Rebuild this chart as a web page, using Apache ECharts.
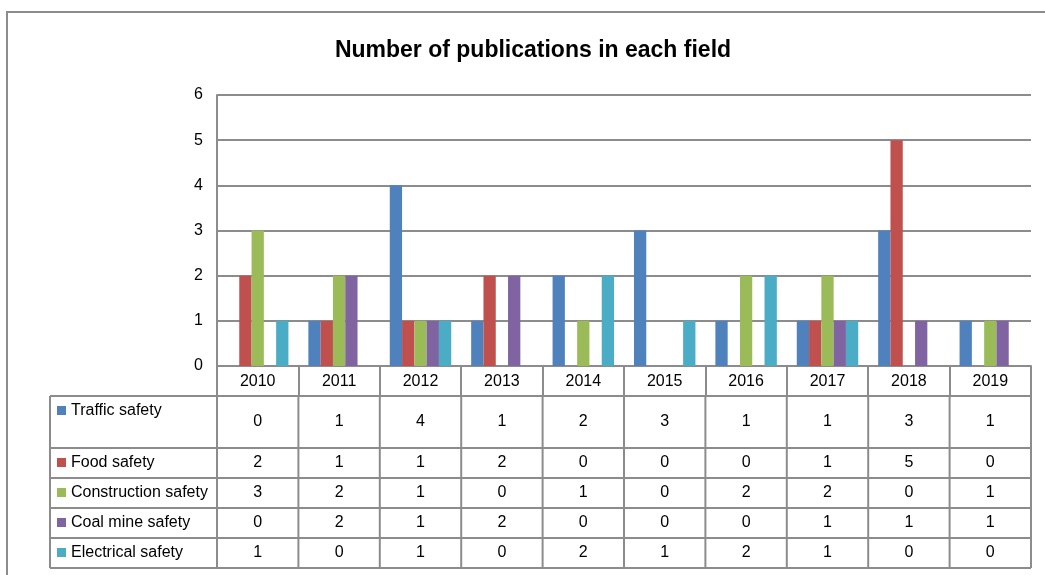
<!DOCTYPE html>
<html>
<head>
<meta charset="utf-8">
<script src="https://cdn.jsdelivr.net/npm/echarts@6/dist/echarts.min.js"></script>
<style>
  html, body { margin: 0; padding: 0; background: #fff; }
  #chart { width: 1045px; height: 575px; }
</style>
</head>
<body>
<div id="chart"></div>
<script>
  // data
  var years = ['2010', '2011', '2012', '2013', '2014', '2015', '2016', '2017', '2018', '2019'];
  var seriesNames = ['Traffic safety', 'Food safety', 'Construction safety', 'Coal mine safety', 'Electrical safety'];
  var trafficSafety = [0, 1, 4, 1, 2, 3, 1, 1, 3, 1];
  var foodSafety = [2, 1, 1, 2, 0, 0, 0, 1, 5, 0];
  var constructionSafety = [3, 2, 1, 0, 1, 0, 2, 2, 0, 1];
  var coalMineSafety = [0, 2, 1, 2, 0, 0, 0, 1, 1, 1];
  var electricalSafety = [1, 0, 1, 0, 2, 1, 2, 1, 0, 0];
  var yTicks = [0, 1, 2, 3, 4, 5, 6];

  var seriesData = [trafficSafety, foodSafety, constructionSafety, coalMineSafety, electricalSafety];
  var colors = ['#4F81BD', '#C0504D', '#9BBB59', '#8064A2', '#4BACC6'];
  var lineColor = '#8c8c8c';
  var fontFamily = 'Liberation Sans';
  var fontSize = 16;

  var chart = echarts.init(document.getElementById('chart'));

  var option = {
    animation: false,
    textStyle: { fontFamily: fontFamily },
    title: {
      text: 'Number of publications in each field',
      left: 528,
      textAlign: 'center',
      top: 34,
      textStyle: { fontSize: 23, fontWeight: 'bold', color: '#000', fontFamily: fontFamily }
    },
    grid: { left: 217, right: 14, top: 95, bottom: 209 },
    xAxis: {
      type: 'category',
      data: years,
      boundaryGap: true,
      axisLine: { show: true, lineStyle: { color: lineColor, width: 2 } },
      axisTick: { show: true, length: 30, lineStyle: { color: lineColor, width: 2 } },
      axisLabel: { color: '#000', fontSize: fontSize, margin: 8 },
      splitLine: { show: false }
    },
    yAxis: {
      type: 'value',
      min: yTicks[0],
      max: yTicks[yTicks.length - 1],
      interval: 1,
      axisLine: { show: true, lineStyle: { color: lineColor, width: 2 } },
      axisTick: { show: false },
      axisLabel: { color: '#000', fontSize: fontSize, margin: 14 },
      splitLine: { show: true, lineStyle: { color: lineColor, width: 2 } }
    },
    series: seriesNames.map(function (name, i) {
      return {
        name: name,
        type: 'bar',
        data: seriesData[i],
        barGap: '0%',
        barCategoryGap: '24.5%',
        itemStyle: { color: colors[i] }
      };
    })
  };
  chart.setOption(option);

  // data table under the axis, placed from the axis scale
  function buildTable() {
    var x0 = chart.convertToPixel({ xAxisIndex: 0 }, 0);
    var x1 = chart.convertToPixel({ xAxisIndex: 0 }, 1);
    var band = x1 - x0;
    var leftEdge = x0 - band / 2;
    var rightEdge = leftEdge + band * years.length;
    var baseY = chart.convertToPixel({ yAxisIndex: 0 }, 0);
    var headerH = 30;
    var rowH = [52, 30, 30, 30, 30];
    var tableLeft = 50;
    var els = [];
    var line = function (xa, ya, xb, yb) {
      els.push({
        type: 'line',
        shape: { x1: xa, y1: ya, x2: xb, y2: yb },
        style: { stroke: lineColor, lineWidth: 2 },
        silent: true
      });
    };

    // outer chart frame
    els.push({
      type: 'rect',
      shape: { x: 7, y: 12, width: 1100, height: 650 },
      style: { fill: null, stroke: lineColor, lineWidth: 2 },
      silent: true
    });

    var top = baseY + headerH;
    var y = top;
    line(tableLeft, y, rightEdge, y);
    for (var r = 0; r < seriesNames.length; r++) {
      var h = rowH[r];
      // row label with colour key
      var labelY = r === 0 ? y + 15 : y + h / 2;
      els.push({
        type: 'rect',
        shape: { x: 57, y: labelY - 5, width: 9, height: 9 },
        style: { fill: colors[r] },
        silent: true
      });
      els.push({
        type: 'text',
        x: 71, y: labelY,
        style: { text: seriesNames[r], fill: '#000', font: fontSize + 'px ' + fontFamily, textAlign: 'left', textVerticalAlign: 'middle' },
        silent: true
      });
      for (var c = 0; c < years.length; c++) {
        els.push({
          type: 'text',
          x: leftEdge + band * (c + 0.5), y: y + h / 2,
          style: { text: String(seriesData[r][c]), fill: '#000', font: fontSize + 'px ' + fontFamily, textAlign: 'center', textVerticalAlign: 'middle' },
          silent: true
        });
      }
      y += h;
      line(tableLeft, y, rightEdge, y);
    }
    line(tableLeft, top, tableLeft, y);
    for (var k = 0; k <= years.length; k++) {
      var xv = leftEdge + band * k;
      line(xv, top, xv, y);
    }
    chart.setOption({ graphic: { elements: els } });
  }
  buildTable();
</script>
</body>
</html>
